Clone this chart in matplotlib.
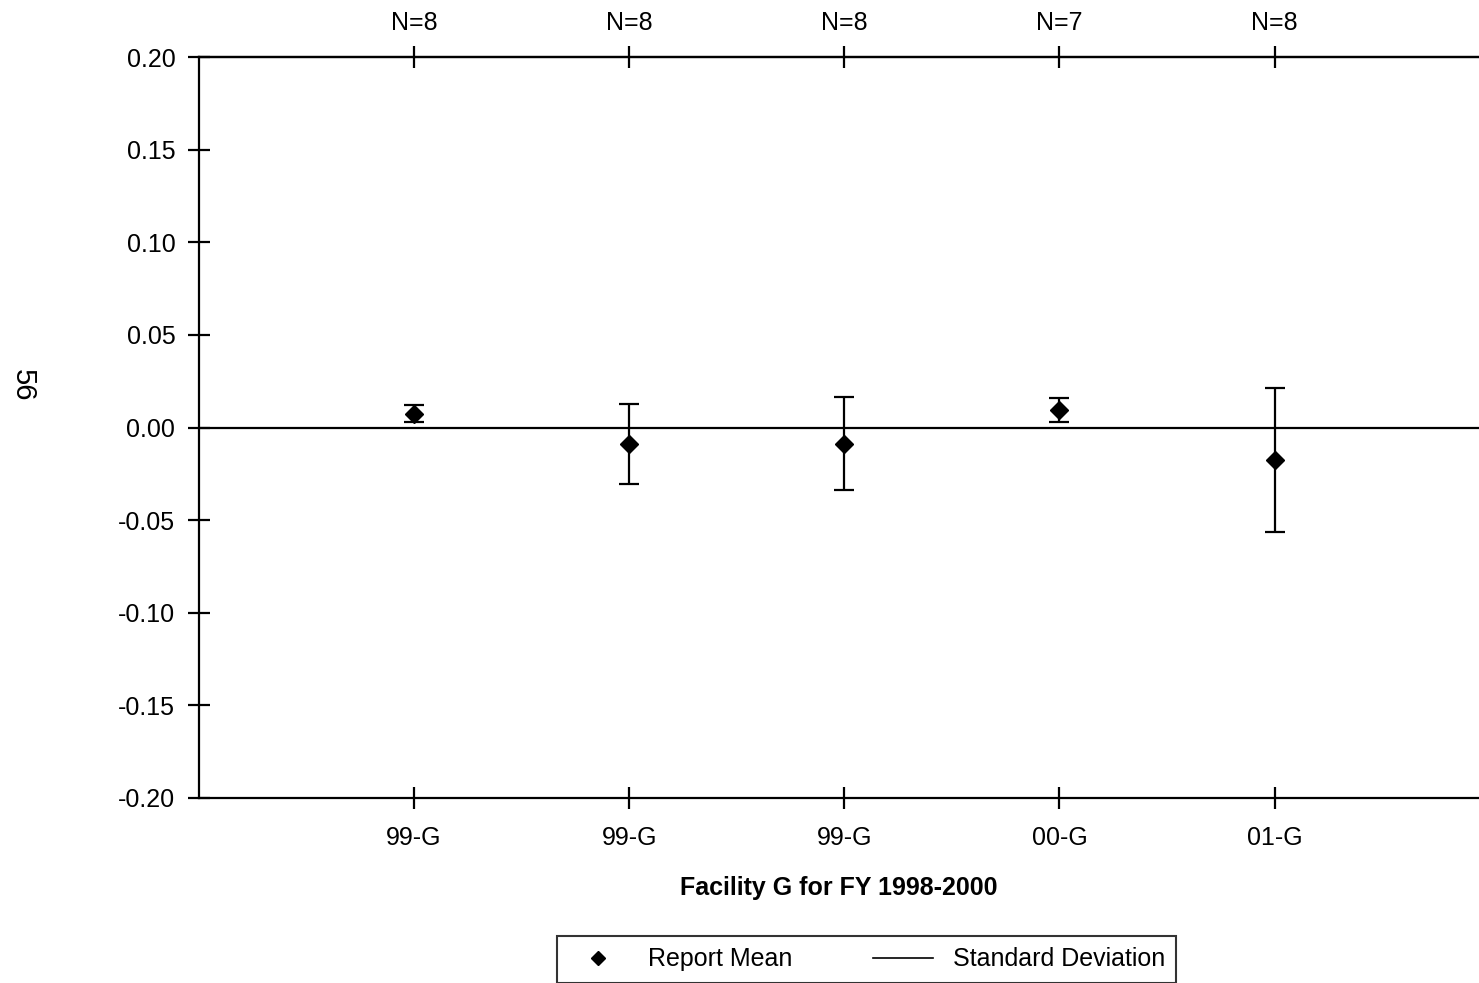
import numpy as np
import matplotlib.pyplot as plt
from matplotlib.lines import Line2D

plt.rcParams['font.family'] = ['Liberation Sans', 'DejaVu Sans']

# donnees
categories = ['99-G', '99-G', '99-G', '00-G', '01-G']
n_labels = ['N=8', 'N=8', 'N=8', 'N=7', 'N=8']
means = [0.0075, -0.0088, -0.0087, 0.0096, -0.0175]
sds = [0.0045, 0.0215, 0.0249, 0.0065, 0.0387]
yticks = [-0.20, -0.15, -0.10, -0.05, 0.0, 0.05, 0.10, 0.15, 0.20]

pos = np.arange(1, len(categories) + 1)

fig = plt.figure(figsize=(14.79, 9.83), dpi=100)
ax = fig.add_axes([0.1345, 0.1882, 0.8655, 0.7538])

ax.axhline(0, color='k', lw=1.6, zorder=1)
ax.errorbar(pos, means, yerr=sds, fmt='D', color='k', ms=9, capsize=7,
            elinewidth=1.6, capthick=1.6, zorder=3)

ax.set_xlim(0, 5.95)
ax.set_ylim(-0.20, 0.20)
ax.set_yticks(yticks)
ax.set_yticklabels(['%.2f' % v for v in yticks])
ax.set_xticks(pos)
ax.set_xticklabels(categories)

# axes du graphique
ax.spines['right'].set_visible(False)
for s in ['left', 'top', 'bottom']:
    ax.spines[s].set_linewidth(1.6)
ax.tick_params(axis='both', direction='inout', length=16, width=1.6, labelsize=18)
ax.tick_params(axis='y', pad=9)
ax.tick_params(axis='x', pad=12)

top = ax.secondary_xaxis('top')
top.set_xticks(pos)
top.set_xticklabels(n_labels)
top.spines['top'].set_linewidth(1.6)
top.tick_params(direction='inout', length=16, width=1.6, labelsize=18, pad=8)

ax.set_xlabel('Facility G for FY 1998-2000', fontsize=18, fontweight='bold', labelpad=19)

fig.text(0.0155, 0.608, '56', rotation=270, fontsize=21, ha='center', va='center')

handles = [Line2D([], [], marker='D', color='k', ls='none', ms=7),
           Line2D([], [], color='k', lw=1.2)]
leg = fig.legend(handles, ['Report Mean', 'Standard Deviation'], ncol=2,
                 loc='center', bbox_to_anchor=(0.586, 0.024), fontsize=18,
                 frameon=True, fancybox=False, edgecolor='k', columnspacing=3.2,
                 handlelength=2.4, borderpad=0.45)
leg.get_frame().set_linewidth(1.5)

fig.savefig('out.png', dpi=100)
